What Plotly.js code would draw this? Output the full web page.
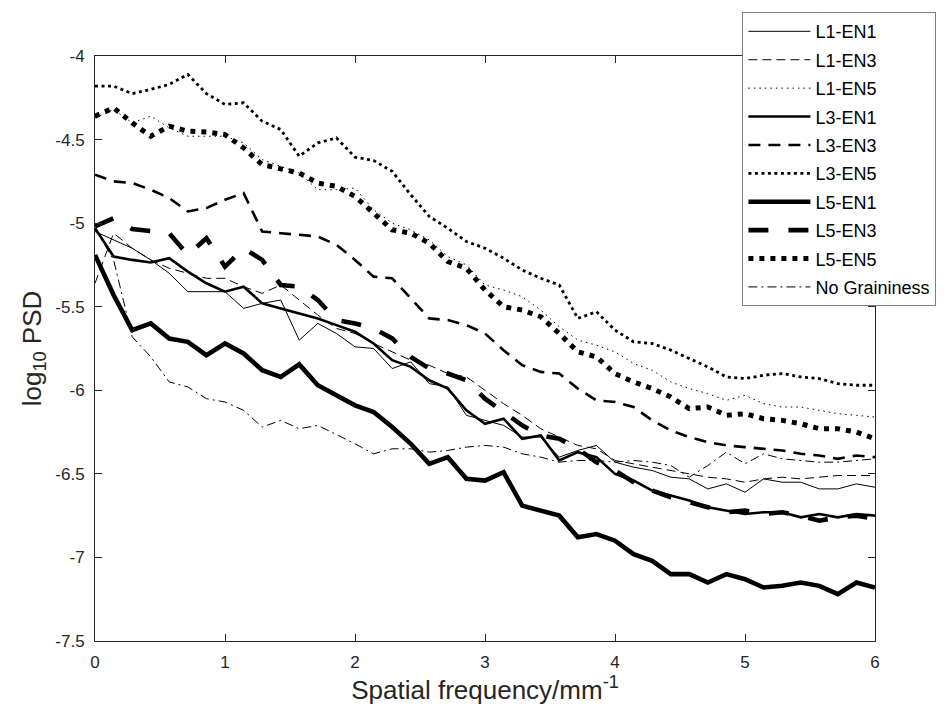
<!DOCTYPE html>
<html>
<head>
<meta charset="utf-8">
<script src="https://cdn.plot.ly/plotly-3.0.1.min.js"></script>
<style>
  html, body { margin: 0; padding: 0; background: #ffffff; }
  #chart { width: 948px; height: 719px; }
</style>
</head>
<body>
<div id="chart"></div>
<script>
// Spatial frequency (mm^-1)
var freq = [0, 0.143, 0.286, 0.429, 0.571, 0.714, 0.857, 1, 1.143, 1.286, 1.429, 1.571, 1.714, 1.857, 2,
  2.143, 2.286, 2.429, 2.571, 2.714, 2.857, 3, 3.143, 3.286, 3.429, 3.571, 3.714, 3.857, 4,
  4.143, 4.286, 4.429, 4.571, 4.714, 4.857, 5, 5.143, 5.286, 5.429, 5.571, 5.714, 5.857, 6];

var seriesNames = ['L1-EN1', 'L1-EN3', 'L1-EN5', 'L3-EN1', 'L3-EN3', 'L3-EN5', 'L5-EN1', 'L5-EN3', 'L5-EN5', 'No Graininess'];

var L1_EN1 = [-5.05, -5.10, -5.15, -5.22, -5.30, -5.41, -5.41, -5.41, -5.51, -5.48, -5.46, -5.70, -5.60, -5.66, -5.74,
  -5.75, -5.87, -5.83, -5.96, -5.98, -6.15, -6.18, -6.21, -6.28, -6.28, -6.40, -6.36, -6.33, -6.43,
  -6.46, -6.48, -6.52, -6.53, -6.59, -6.56, -6.61, -6.53, -6.55, -6.55, -6.59, -6.59, -6.56, -6.58];

var L1_EN3 = [-5.36, -5.06, -5.15, -5.22, -5.27, -5.30, -5.33, -5.33, -5.38, -5.42, -5.37, -5.46, -5.55, -5.63, -5.66,
  -5.72, -5.77, -5.82, -5.85, -5.90, -5.92, -6.00, -6.08, -6.15, -6.23, -6.28, -6.33, -6.35, -6.42,
  -6.44, -6.46, -6.48, -6.50, -6.52, -6.53, -6.55, -6.53, -6.52, -6.53, -6.52, -6.51, -6.51, -6.51];

var L1_EN5 = [-4.37, -4.32, -4.40, -4.36, -4.43, -4.48, -4.48, -4.48, -4.52, -4.62, -4.66, -4.70, -4.80, -4.80, -4.79,
  -4.92, -5.00, -5.04, -5.10, -5.20, -5.25, -5.37, -5.40, -5.44, -5.52, -5.62, -5.70, -5.73, -5.77,
  -5.84, -5.88, -5.95, -5.99, -6.02, -6.06, -6.03, -6.08, -6.10, -6.10, -6.12, -6.14, -6.15, -6.16];

var L3_EN1 = [-5.03, -5.20, -5.22, -5.235, -5.21, -5.29, -5.36, -5.41, -5.38, -5.48, -5.51, -5.54, -5.57, -5.61, -5.65,
  -5.72, -5.82, -5.86, -5.94, -5.99, -6.12, -6.20, -6.17, -6.29, -6.27, -6.42, -6.37, -6.40, -6.50,
  -6.54, -6.60, -6.63, -6.66, -6.70, -6.72, -6.74, -6.73, -6.73, -6.76, -6.74, -6.76, -6.74, -6.75];

var L3_EN3 = [-4.71, -4.75, -4.76, -4.80, -4.85, -4.93, -4.91, -4.86, -4.82, -5.05, -5.06, -5.07, -5.08, -5.13, -5.22,
  -5.32, -5.33, -5.45, -5.57, -5.58, -5.61, -5.66, -5.76, -5.85, -5.89, -5.90, -5.99, -6.06, -6.07,
  -6.10, -6.18, -6.24, -6.28, -6.31, -6.33, -6.34, -6.35, -6.36, -6.38, -6.39, -6.41, -6.39, -6.40];

var L3_EN5 = [-4.18, -4.18, -4.225, -4.20, -4.17, -4.11, -4.225, -4.29, -4.28, -4.39, -4.44, -4.60, -4.52, -4.49, -4.605,
  -4.625, -4.69, -4.83, -4.96, -5.03, -5.11, -5.15, -5.21, -5.28, -5.33, -5.37, -5.57, -5.53, -5.64,
  -5.71, -5.72, -5.76, -5.81, -5.86, -5.92, -5.93, -5.91, -5.90, -5.92, -5.93, -5.96, -5.97, -5.97];

var L5_EN1 = [-5.19, -5.43, -5.64, -5.60, -5.69, -5.71, -5.79, -5.72, -5.78, -5.88, -5.92, -5.845, -5.97, -6.03, -6.09,
  -6.13, -6.22, -6.32, -6.44, -6.40, -6.53, -6.54, -6.49, -6.69, -6.72, -6.75, -6.88, -6.86, -6.90,
  -6.98, -7.02, -7.10, -7.10, -7.15, -7.10, -7.13, -7.18, -7.17, -7.15, -7.17, -7.22, -7.15, -7.18];

var L5_EN3 = [-5.02, -4.97, -5.035, -5.05, -5.06, -5.19, -5.09, -5.26, -5.15, -5.22, -5.37, -5.38, -5.46, -5.58, -5.60,
  -5.63, -5.69, -5.80, -5.87, -5.90, -5.94, -6.05, -6.13, -6.21, -6.27, -6.29, -6.35, -6.43, -6.48,
  -6.55, -6.60, -6.64, -6.67, -6.70, -6.73, -6.72, -6.74, -6.73, -6.75, -6.78, -6.76, -6.75, -6.77];

var L5_EN5 = [-4.36, -4.31, -4.40, -4.48, -4.42, -4.45, -4.455, -4.47, -4.55, -4.65, -4.675, -4.70, -4.76, -4.78, -4.84,
  -4.94, -5.04, -5.06, -5.12, -5.23, -5.27, -5.40, -5.50, -5.52, -5.56, -5.66, -5.77, -5.80, -5.90,
  -5.95, -5.99, -6.04, -6.11, -6.10, -6.15, -6.14, -6.17, -6.18, -6.20, -6.23, -6.23, -6.25, -6.29];

var NoGrain = [-5.03, -5.22, -5.68, -5.80, -5.95, -5.98, -6.05, -6.07, -6.12, -6.22, -6.18, -6.23, -6.21, -6.265, -6.32,
  -6.38, -6.35, -6.35, -6.37, -6.36, -6.34, -6.33, -6.34, -6.38, -6.40, -6.43, -6.42, -6.42, -6.43,
  -6.42, -6.43, -6.45, -6.52, -6.45, -6.37, -6.44, -6.38, -6.41, -6.42, -6.43, -6.43, -6.42, -6.41];

var xTickVals = [0, 1, 2, 3, 4, 5, 6];
var xTickText = ['0', '1', '2', '3', '4', '5', '6'];
var yTickVals = [-7.5, -7, -6.5, -6, -5.5, -5, -4.5, -4];
var yTickText = ['-7.5', '-7', '-6.5', '-6', '-5.5', '-5', '-4.5', '-4'];

var seriesValues = [L1_EN1, L1_EN3, L1_EN5, L3_EN1, L3_EN3, L3_EN5, L5_EN1, L5_EN3, L5_EN5, NoGrain];

// styles (kept separate from data)
var styles = [
  {w: 1.0, dash: 'solid'},
  {w: 1.0, dash: '9px,5px'},
  {w: 1.0, dash: '1.5px,4px'},
  {w: 2.6, dash: 'solid'},
  {w: 2.6, dash: '12px,8px'},
  {w: 2.8, dash: '3px,3.5px'},
  {w: 4.6, dash: 'solid'},
  {w: 4.6, dash: '20px,20px'},
  {w: 5.0, dash: '5px,6px'},
  {w: 1.0, dash: '9px,4px,2px,4px'}
];

var traces = seriesNames.map(function (name, k) {
  return {
    type: 'scatter',
    mode: 'lines',
    name: name,
    legendgroup: 'g' + k,
    x: freq,
    y: seriesValues[k],
    line: {color: '#000000', width: styles[k].w, dash: styles[k].dash},
    hoverinfo: 'skip'
  };
});

var axisColor = '#262626';
var fontFam = 'Liberation Sans, Arial, Helvetica, sans-serif';

var layout = {
  width: 948,
  height: 719,
  paper_bgcolor: '#ffffff',
  plot_bgcolor: '#ffffff',
  margin: {l: 95, r: 71, t: 29, b: 78, pad: 0},
  font: {family: fontFam, size: 17, color: axisColor},
  showlegend: true,
  xaxis: {
    range: [0, 6],
    tickmode: 'array',
    tickvals: xTickVals,
    ticktext: xTickText,
    ticks: 'inside',
    ticklen: 7,
    tickwidth: 1,
    tickcolor: axisColor,
    showline: true,
    linecolor: axisColor,
    linewidth: 1,
    mirror: 'ticks',
    showgrid: false,
    zeroline: false,
    tickfont: {family: fontFam, size: 17, color: axisColor},
    ticklabelstandoff: 6,
    title: {text: 'Spatial frequency/mm<sup>-1</sup>', font: {family: fontFam, size: 26, color: axisColor}, standoff: 4}
  },
  yaxis: {
    range: [-7.5, -4],
    tickmode: 'array',
    tickvals: yTickVals,
    ticktext: yTickText,
    ticks: 'inside',
    ticklen: 7,
    tickwidth: 1,
    tickcolor: axisColor,
    showline: true,
    linecolor: axisColor,
    linewidth: 1,
    mirror: 'ticks',
    showgrid: false,
    zeroline: false,
    tickfont: {family: fontFam, size: 17, color: axisColor},
    ticklabelstandoff: 6,
    title: {text: 'log<sub>10</sub> PSD', font: {family: fontFam, size: 26, color: axisColor}, standoff: 6}
  },
  legend: {
    x: 0.83,
    xanchor: 'left',
    y: 1.075,
    yanchor: 'top',
    bgcolor: '#ffffff',
    bordercolor: '#808080',
    borderwidth: 1,
    font: {family: fontFam, size: 18, color: '#000000'},
    itemwidth: 62,
    traceorder: 'grouped',
    tracegroupgap: 2
  }
};

Plotly.newPlot('chart', traces, layout, {staticPlot: true, displayModeBar: false});
</script>
</body>
</html>
